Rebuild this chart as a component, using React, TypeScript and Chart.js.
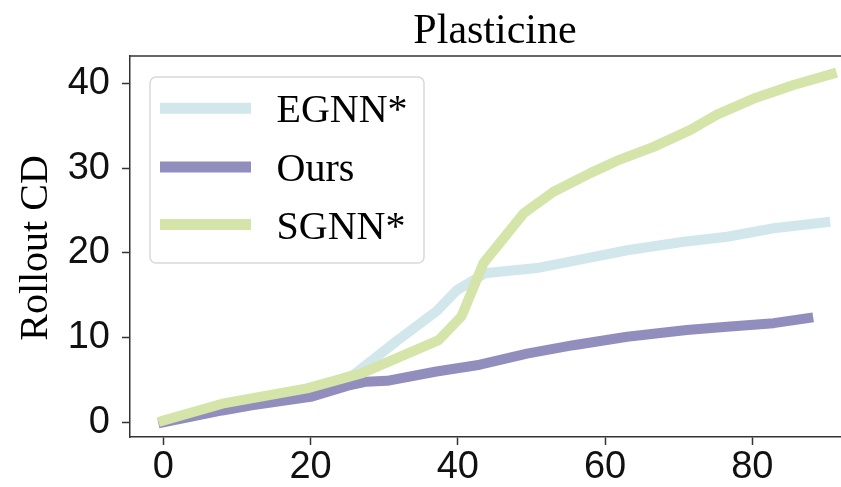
import React, { useEffect, useRef } from "react";
import { Chart, registerables } from "chart.js";

Chart.register(...registerables);

const titleText = "Plasticine";
const yLabel = "Rollout CD";
const seriesNames = ["EGNN*", "Ours", "SGNN*"];
const seriesColors = ["#d1e7ec", "#918ebe", "#d5e4a8"];
const xTicks = [0, 20, 40, 60, 80];
const yTicks = [0, 10, 20, 30, 40];

const egnnX = [0, 8, 19.5, 25.8, 27.6, 31.7, 37.1, 39.9, 43.7, 50.7, 56.6, 63, 70.7, 76.6, 82.9, 89.9];
const egnnY = [0.1, 1.8, 3.7, 5.6, 6.8, 9.6, 13.1, 15.6, 17.6, 18.2, 19.2, 20.3, 21.3, 21.9, 22.9, 23.6];

const oursX = [0, 8, 12, 20, 25.4, 27.6, 30.4, 37.1, 43, 49.4, 55.7, 63, 71.1, 77, 82.9, 87.6];
const oursY = [0, 1.4, 2.0, 3.0, 4.4, 4.8, 4.9, 6.0, 6.8, 8.1, 9.1, 10.1, 10.9, 11.3, 11.7, 12.3];

const sgnnX = [0, 8, 19.5, 27, 37.4, 40.5, 43.5, 49, 53, 58, 62, 66.6, 71.6, 75.2, 80.2, 85.6, 90.8];
const sgnnY = [0.2, 2.2, 4.0, 5.8, 9.7, 12.5, 18.8, 24.7, 27.2, 29.4, 31.0, 32.5, 34.5, 36.3, 38.2, 39.8, 41.1];

const toPoints = (xs: number[], ys: number[]) => xs.map((x, i) => ({ x, y: ys[i] }));

const decorPlugin = {
  id: "decor",
  afterDraw(chart: any) {
    const ctx = chart.ctx;
    const area = chart.chartArea;
    ctx.save();
    // top spine
    ctx.strokeStyle = "#333333";
    ctx.lineWidth = 1.5;
    ctx.beginPath();
    ctx.moveTo(area.left, area.top);
    ctx.lineTo(area.right, area.top);
    ctx.stroke();

    // title
    ctx.fillStyle = "#000000";
    ctx.font = "42px 'Liberation Serif'";
    ctx.textAlign = "center";
    ctx.textBaseline = "alphabetic";
    ctx.fillText(titleText, 495, 42.5);

    // y label
    ctx.save();
    ctx.translate(47, 248);
    ctx.rotate(-Math.PI / 2);
    ctx.font = "40px 'Liberation Serif'";
    ctx.textAlign = "center";
    ctx.fillText(yLabel, 0, 0);
    ctx.restore();

    // legend
    const bx = 150, by = 77, bw = 274, bh = 186, r = 6;
    ctx.fillStyle = "rgba(255,255,255,0.8)";
    ctx.strokeStyle = "#d9d9d9";
    ctx.lineWidth = 1.5;
    ctx.beginPath();
    ctx.moveTo(bx + r, by);
    ctx.lineTo(bx + bw - r, by);
    ctx.arcTo(bx + bw, by, bx + bw, by + r, r);
    ctx.lineTo(bx + bw, by + bh - r);
    ctx.arcTo(bx + bw, by + bh, bx + bw - r, by + bh, r);
    ctx.lineTo(bx + r, by + bh);
    ctx.arcTo(bx, by + bh, bx, by + bh - r, r);
    ctx.lineTo(bx, by + r);
    ctx.arcTo(bx, by, bx + r, by, r);
    ctx.closePath();
    ctx.fill();
    ctx.stroke();

    const rows = [108.3, 167, 224.5];
    seriesNames.forEach((name, i) => {
      ctx.strokeStyle = seriesColors[i];
      ctx.lineWidth = 11;
      ctx.lineCap = "butt";
      ctx.beginPath();
      ctx.moveTo(160, rows[i]);
      ctx.lineTo(251, rows[i]);
      ctx.stroke();
      ctx.fillStyle = "#000000";
      ctx.font = "40px 'Liberation Serif'";
      ctx.textAlign = "left";
      ctx.textBaseline = "alphabetic";
      ctx.fillText(name, 276.5, rows[i] + 14);
    });
    ctx.restore();
  },
};

const CANVAS_W = 860;

export default function App() {
  const canvasRef = useRef<HTMLCanvasElement | null>(null);

  useEffect(() => {
    document.body.style.margin = "0";
    const canvas = canvasRef.current;
    if (!canvas) return;
    const mk = (label: string, xs: number[], ys: number[], color: string, order: number) => ({
      label,
      data: toPoints(xs, ys),
      borderColor: color,
      backgroundColor: color,
      borderWidth: 10,
      borderCapStyle: "square" as const,
      borderJoinStyle: "round" as const,
      pointRadius: 0,
      fill: false,
      tension: 0,
      order,
    });
    // chart area spans px 130 .. 860; x=0 at 163.3, 7.3625 px per unit
    const pxPerUnit = 7.3625;
    const xMin = -(163.3 - 130) / pxPerUnit;
    const xMax = (CANVAS_W - 163.3) / pxPerUnit;
    const chart = new Chart(canvas, {
      type: "line",
      data: {
        datasets: [
          mk(seriesNames[0], egnnX, egnnY, seriesColors[0], 3),
          mk(seriesNames[1], oursX, oursY, seriesColors[1], 2),
          mk(seriesNames[2], sgnnX, sgnnY, seriesColors[2], 1),
        ],
      },
      options: {
        animation: false,
        responsive: false,
        maintainAspectRatio: false,
        layout: { padding: { top: 56, left: 0, right: 0, bottom: 0 } },
        plugins: {
          legend: { display: false },
          title: { display: false },
          tooltip: { enabled: false },
        },
        scales: {
          x: {
            type: "linear",
            min: xMin,
            max: xMax,
            afterBuildTicks: (scale: any) => {
              scale.ticks = xTicks.map((v) => ({ value: v }));
            },
            afterFit: (scale: any) => {
              scale.height = 50;
            },
            grid: {
              drawOnChartArea: false,
              drawTicks: true,
              tickLength: 8,
              tickWidth: 1.5,
              tickColor: "#333333",
            },
            border: { display: true, color: "#333333", width: 1.5 },
            ticks: {
              color: "#111111",
              font: { family: "'Liberation Sans'", size: 38 },
              padding: 0,
              maxRotation: 0,
              callback: (v: any) => String(v),
            },
          },
          y: {
            type: "linear",
            min: -1.73,
            max: 43.22,
            afterBuildTicks: (scale: any) => {
              scale.ticks = yTicks.map((v) => ({ value: v }));
            },
            afterFit: (scale: any) => {
              scale.width = 130;
            },
            grid: {
              drawOnChartArea: false,
              drawTicks: true,
              tickLength: 8,
              tickWidth: 1.5,
              tickColor: "#333333",
            },
            border: { display: true, color: "#333333", width: 1.5 },
            ticks: {
              color: "#111111",
              font: { family: "'Liberation Sans'", size: 38 },
              padding: 12,
              callback: (v: any) => String(v),
            },
          },
        },
      },
      plugins: [decorPlugin],
    });
    return () => chart.destroy();
  }, []);

  return (
    <div style={{ position: "absolute", left: 0, top: 0, width: 841, height: 487, overflow: "hidden" }}>
      <canvas
        ref={canvasRef}
        width={CANVAS_W}
        height={487}
        style={{ width: CANVAS_W, height: 487, display: "block" }}
      />
    </div>
  );
}
